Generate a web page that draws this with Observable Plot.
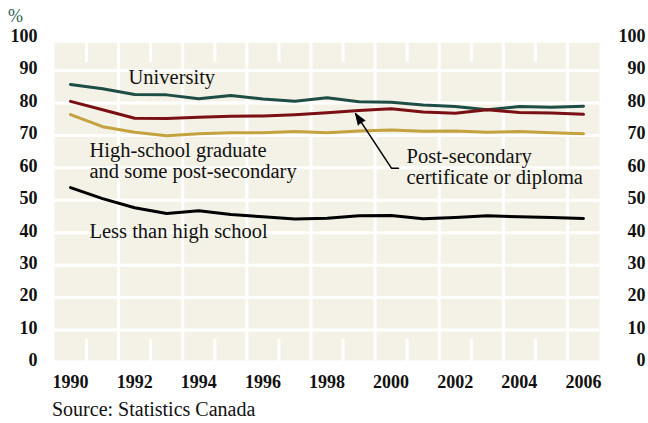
<!DOCTYPE html>
<html>
<head>
<meta charset="utf-8">
<script src="https://cdn.jsdelivr.net/npm/d3@7"></script>
<script src="https://cdn.jsdelivr.net/npm/@observablehq/plot@0.6"></script>
<style>
  html, body { margin: 0; padding: 0; background: #ffffff; }
  #wrap { position: relative; width: 648px; height: 423px; overflow: hidden; }
  #pct { position: absolute; left: 8px; top: 9px; font: 18px "Liberation Serif", serif; color: #2f5f57; line-height: 14px; }
  #source { position: absolute; left: 52px; top: 399px; font: 20px "Liberation Serif", serif; color: #111; line-height: 20px; white-space: nowrap; }
</style>
</head>
<body>
<div id="wrap">
  <div id="chart"></div>
  <div id="pct">%</div>
  <div id="source">Source: Statistics Canada</div>
</div>
<script>
// ---- data ----
const years = [1990, 1991, 1992, 1993, 1994, 1995, 1996, 1997, 1998, 1999, 2000, 2001, 2002, 2003, 2004, 2005, 2006];
const university    = [85.7, 84.4, 82.6, 82.5, 81.3, 82.3, 81.2, 80.5, 81.6, 80.4, 80.2, 79.4, 78.9, 77.9, 78.9, 78.7, 79.0];
const postSecondary = [80.5, 77.9, 75.3, 75.2, 75.6, 75.9, 76.0, 76.4, 77.0, 77.7, 78.2, 77.2, 76.8, 77.9, 77.1, 76.9, 76.5];
const highSchool    = [76.4, 72.7, 71.0, 69.9, 70.5, 70.8, 70.8, 71.2, 70.8, 71.4, 71.7, 71.3, 71.4, 71.0, 71.2, 70.8, 70.5];
const lessThanHS    = [53.9, 50.5, 47.7, 45.9, 46.8, 45.6, 44.9, 44.2, 44.5, 45.2, 45.3, 44.3, 44.7, 45.2, 44.9, 44.7, 44.4];

const xTickLabels = [1990, 1992, 1994, 1996, 1998, 2000, 2002, 2004, 2006];
const yTickLabels = [0, 10, 20, 30, 40, 50, 60, 70, 80, 90, 100];

const seriesNames  = ["University", "Post-secondary certificate or diploma", "High-school graduate and some post-secondary", "Less than high school"];
const seriesValues = [university, postSecondary, highSchool, lessThanHS];
const seriesColors = ["#1e4d46", "#7a0f14", "#c3a23f", "#000000"];

// annotation labels (positioned in data space)
const labels = [
  {year: 1991.81, value: 88.0, text: "University"},
  {year: 1990.59, value: 62.2, text: "High-school graduate\nand some post-secondary"},
  {year: 2000.48, value: 60.4, text: "Post-secondary\ncertificate or diploma"},
  {year: 1990.59, value: 40.5, text: "Less than high school"}
];
// leader line from the "Post-secondary" label to its line
const arrowPath = [
  {year: 2000.23, value: 59.9},
  {year: 2000.01, value: 59.9},
  {year: 1998.89, value: 76.7}
];
const arrowTip = [arrowPath[2]];

// ---- derived ----
const table = seriesNames.flatMap((name, s) =>
  years.map((year, i) => ({series: name, year, value: seriesValues[s][i]})));
const majorGrid = years.filter(y => y % 2 === 1).map(y => y + 0.5).filter(y => y < 2006);
const minorGrid = years.filter(y => y % 2 === 0).map(y => y + 0.5).filter(y => y < 2006);

const fontBold = "bold";
const chart = Plot.plot({
  width: 648,
  height: 423,
  marginLeft: 54,
  marginRight: 49,
  marginTop: 37.6,
  marginBottom: 61,
  style: {fontFamily: "'Liberation Serif', serif", fontSize: "18px", background: "transparent", color: "#111", overflow: "visible"},
  x: {domain: [1989.5, 2006.5], label: null},
  y: {domain: [0, 100], label: null},
  color: {domain: seriesNames, range: seriesColors},
  marks: [
    Plot.frame({fill: "#f4f2e6", stroke: "none", insetTop: 4.7, insetBottom: 2}),
    Plot.ruleY(yTickLabels.filter(v => v > 0 && v < 100), {stroke: "white", strokeWidth: 3}),
    Plot.ruleX(majorGrid, {stroke: "white", strokeWidth: 3, insetTop: 4.7, insetBottom: 2}),
    Plot.ruleX(minorGrid, {y1: 100, y2: 92.5, stroke: "white", strokeWidth: 3, insetTop: 4.7}),
    Plot.ruleX(minorGrid, {y1: 0, y2: 6.5, stroke: "white", strokeWidth: 3, insetBottom: 2}),
    Plot.axisY({anchor: "left", ticks: yTickLabels, tickSize: 0, tickPadding: 17, fontWeight: fontBold, dy: -2, label: null}),
    Plot.axisY({anchor: "right", ticks: yTickLabels, tickSize: 0, tickPadding: 46, textAnchor: "end", fontWeight: fontBold, dy: -2, label: null}),
    Plot.axisX({ticks: xTickLabels, tickSize: 0, tickPadding: 13, tickFormat: "d", fontWeight: fontBold, label: null}),
    Plot.line(table, {x: "year", y: "value", z: "series", stroke: "series", strokeWidth: 3, strokeLinejoin: "round"}),
    Plot.line(arrowPath, {x: "year", y: "value", stroke: "#000", strokeWidth: 1.5}),
    Plot.vector(arrowTip, {x: "year", y: "value", anchor: "end", length: 11, rotate: -33.5, shape: "spike", r: 4, fill: "#000", stroke: "#000", strokeWidth: 1}),
    Plot.text(labels, {x: "year", y: "value", text: "text", textAnchor: "start", lineAnchor: "middle", fontSize: 20.5, lineHeight: 1.02, fill: "#111"})
  ]
});
document.getElementById("chart").appendChild(chart);
</script>
</body>
</html>
